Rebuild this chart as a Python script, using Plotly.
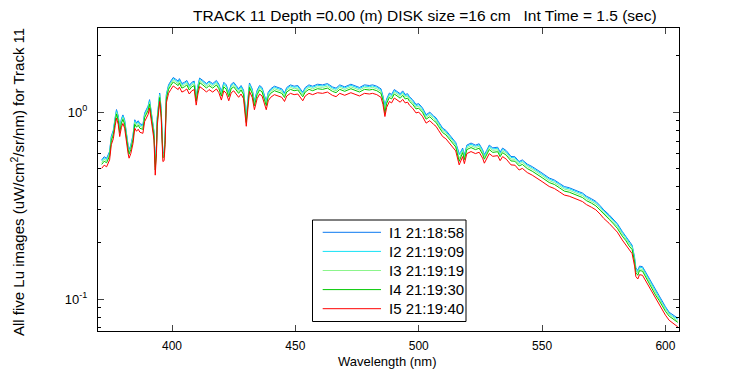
import plotly.graph_objects as go

wavelength = [371.5, 372.5, 373.5, 374.7, 375.4, 376.2, 377.0, 377.5, 378.2, 378.8,
              379.5, 380.1, 380.8, 381.5, 382.2, 382.6, 383.3, 384.2, 384.9, 385.6,
              386.3, 387.0, 388.2, 388.9, 389.6, 390.3, 390.9, 391.6, 392.2, 392.7,
              393.2, 393.7, 394.0, 394.5, 395.0, 395.6, 396.3, 396.8, 397.2, 397.7,
              398.6, 399.5, 400.5, 401.5, 402.5, 403.0, 404.0, 405.0, 406.0, 407.0,
              408.0, 409.0, 409.8, 410.5, 411.2, 412.5, 414.0, 415.0, 416.5, 418.0,
              419.0, 420.0, 421.0, 422.0, 423.0, 424.0, 425.0, 426.0, 427.0, 428.0,
              429.0, 430.1, 430.8, 431.4, 432.5, 433.4, 434.5, 435.5, 436.5, 438.2,
              439.0, 440.0, 441.5, 443.0, 444.5, 445.6, 446.5, 448.0, 449.5, 451.0,
              453.0, 454.0, 455.5, 457.0, 459.0, 461.0, 463.0, 465.0, 466.5, 468.0,
              470.0, 472.5, 474.0, 476.0, 478.0, 480.0, 481.3, 483.0, 484.7, 485.5,
              486.3, 487.0, 488.1, 489.0, 490.1, 491.5, 492.5, 493.5, 494.5, 495.5,
              496.2, 497.5, 498.9, 500.0, 501.5, 503.0, 504.5, 506.0, 507.0, 508.0,
              509.7, 511.0, 512.5, 513.7, 515.0, 516.4, 517.0, 517.8, 518.5, 519.5,
              521.2, 523.0, 524.5, 525.9, 526.6, 527.5, 528.6, 530.0, 532.0, 533.0,
              534.0, 535.5, 537.4, 539.0, 540.7, 542.0, 544.0, 546.0, 548.1, 550.0,
              552.9, 555.0, 557.0, 559.0, 561.0, 563.0, 565.0, 566.4, 568.0, 570.0,
              571.8, 573.5, 575.0, 577.2, 579.0, 580.5, 582.5, 584.0, 585.3, 586.5,
              587.5, 588.0, 588.8, 589.5, 590.7, 592.0, 593.5, 594.7, 596.0, 597.5,
              598.8, 600.0, 601.5, 603.0, 605.0]

i1_values = [.555, .577, .566, .616, .744, .799, .944, 1.032, .955, .821,
             .921, .966, .910, .755, .666, .629, .666, .755, .910, .877,
             .899, .866, .855, .988, 1.032, 1.077, 1.166, 1.010, .888, .788,
             .540, .666, .932, 1.110, 1.265, 1.043, .604, .611, .744, 1.243,
             1.399, 1.465, 1.532, 1.499, 1.465, 1.510, 1.421, 1.443, 1.476, 1.388,
             1.443, 1.465, 1.210, 1.388, 1.521, 1.476, 1.421, 1.465, 1.421, 1.476,
             1.410, 1.288, 1.443, 1.399, 1.277, 1.410, 1.443, 1.388, 1.332, 1.388,
             1.310, .950, 1.166, 1.432, 1.332, 1.143, 1.310, 1.388, 1.354, 1.143,
             1.277, 1.332, 1.376, 1.354, 1.332, 1.265, 1.354, 1.399, 1.376, 1.388,
             1.277, 1.354, 1.399, 1.376, 1.410, 1.399, 1.421, 1.365, 1.343, 1.399,
             1.365, 1.410, 1.388, 1.354, 1.399, 1.388, 1.399, 1.376, 1.332, 1.221,
             1.080, 1.177, 1.265, 1.243, 1.321, 1.288, 1.254, 1.299, 1.243, 1.254,
             1.210, 1.166, 1.099, 1.110, 1.055, .969, .999, .955, .932, .888,
             .821, .799, .755, .727, .688, .600, .611, .642, .588, .666,
             .683, .666, .677, .629, .592, .622, .666, .644, .649, .611,
             .642, .622, .579, .577, .544, .555, .527, .511, .492, .472,
             .444, .433, .416, .400, .394, .383, .375, .369, .355, .344,
             .333, .316, .300, .282, .266, .253, .230, .216, .203, .194,
             .167, .147, .142, .150, .149, .139, .128, .119, .111, .103,
             .097, .091, .085, .082, .079]

i2_values = [.548, .569, .558, .608, .734, .788, .931, 1.018, .942, .810,
             .909, .953, .898, .745, .657, .621, .657, .745, .898, .865,
             .887, .854, .843, .975, 1.018, 1.062, 1.150, .996, .876, .777,
             .530, .657, .920, 1.095, 1.248, 1.029, .596, .602, .734, 1.226,
             1.380, 1.445, 1.511, 1.478, 1.445, 1.489, 1.402, 1.424, 1.456, 1.369,
             1.424, 1.445, 1.194, 1.369, 1.500, 1.456, 1.402, 1.445, 1.402, 1.456,
             1.391, 1.270, 1.424, 1.380, 1.259, 1.391, 1.424, 1.369, 1.314, 1.369,
             1.292, .930, 1.150, 1.413, 1.314, 1.128, 1.292, 1.369, 1.336, 1.128,
             1.259, 1.314, 1.358, 1.336, 1.314, 1.248, 1.336, 1.380, 1.358, 1.369,
             1.259, 1.336, 1.380, 1.358, 1.391, 1.380, 1.402, 1.347, 1.325, 1.380,
             1.347, 1.391, 1.369, 1.336, 1.380, 1.369, 1.380, 1.358, 1.314, 1.205,
             1.060, 1.161, 1.248, 1.226, 1.303, 1.270, 1.237, 1.281, 1.226, 1.237,
             1.194, 1.150, 1.084, 1.095, 1.040, .956, .986, .942, .920, .876,
             .810, .788, .745, .717, .679, .590, .602, .633, .580, .657,
             .673, .657, .668, .621, .584, .613, .657, .635, .641, .602,
             .633, .613, .572, .569, .537, .548, .520, .504, .485, .465,
             .438, .427, .411, .394, .389, .378, .370, .364, .350, .339,
             .329, .312, .296, .278, .263, .250, .227, .214, .200, .192,
             .164, .145, .140, .148, .147, .137, .126, .117, .110, .102,
             .095, .090, .084, .081, .078]

i3_values = [.538, .559, .548, .597, .720, .774, .914, 1.000, .925, .796,
             .892, .935, .882, .731, .645, .610, .645, .731, .882, .849,
             .871, .839, .828, .957, 1.000, 1.043, 1.129, .978, .860, .763,
             .510, .645, .903, 1.075, 1.226, 1.011, .585, .591, .720, 1.204,
             1.355, 1.419, 1.484, 1.451, 1.419, 1.462, 1.376, 1.398, 1.430, 1.344,
             1.398, 1.419, 1.172, 1.344, 1.473, 1.430, 1.376, 1.419, 1.376, 1.430,
             1.365, 1.247, 1.398, 1.355, 1.236, 1.365, 1.398, 1.344, 1.290, 1.344,
             1.269, .910, 1.129, 1.387, 1.290, 1.107, 1.269, 1.344, 1.312, 1.107,
             1.236, 1.290, 1.333, 1.312, 1.290, 1.226, 1.312, 1.355, 1.333, 1.344,
             1.236, 1.312, 1.355, 1.333, 1.365, 1.355, 1.376, 1.322, 1.301, 1.355,
             1.322, 1.365, 1.344, 1.312, 1.355, 1.344, 1.355, 1.333, 1.290, 1.183,
             1.030, 1.140, 1.226, 1.204, 1.279, 1.247, 1.215, 1.258, 1.204, 1.215,
             1.172, 1.129, 1.064, 1.075, 1.021, .938, .968, .925, .903, .860,
             .796, .774, .731, .704, .667, .565, .591, .621, .570, .645,
             .661, .645, .656, .610, .573, .602, .645, .624, .629, .591,
             .621, .602, .561, .559, .527, .538, .511, .495, .476, .457,
             .430, .419, .403, .387, .382, .371, .363, .357, .344, .333,
             .323, .306, .290, .273, .258, .245, .223, .210, .197, .188,
             .161, .142, .138, .145, .144, .134, .124, .115, .108, .100,
             .094, .088, .083, .080, .076]

i4_values = [.525, .546, .536, .583, .704, .756, .893, .977, .903, .777,
             .872, .914, .861, .714, .630, .595, .630, .714, .861, .830,
             .851, .819, .809, .935, .977, 1.019, 1.103, .956, .840, .746,
             .490, .630, .882, 1.050, 1.197, .987, .571, .578, .704, 1.176,
             1.323, 1.386, 1.449, 1.418, 1.386, 1.428, 1.344, 1.365, 1.397, 1.313,
             1.365, 1.386, 1.145, 1.313, 1.439, 1.397, 1.344, 1.386, 1.344, 1.397,
             1.334, 1.218, 1.365, 1.323, 1.208, 1.334, 1.365, 1.313, 1.260, 1.313,
             1.239, .880, 1.103, 1.355, 1.260, 1.082, 1.239, 1.313, 1.281, 1.082,
             1.208, 1.260, 1.302, 1.281, 1.260, 1.197, 1.281, 1.323, 1.302, 1.313,
             1.208, 1.281, 1.323, 1.302, 1.334, 1.323, 1.344, 1.292, 1.271, 1.323,
             1.292, 1.334, 1.313, 1.281, 1.323, 1.313, 1.323, 1.302, 1.260, 1.155,
             .990, 1.113, 1.197, 1.176, 1.250, 1.218, 1.187, 1.229, 1.176, 1.187,
             1.145, 1.103, 1.040, 1.050, .998, .917, .945, .903, .882, .840,
             .777, .756, .714, .688, .651, .545, .578, .607, .557, .630,
             .646, .630, .641, .595, .560, .588, .630, .609, .614, .578,
             .607, .588, .548, .546, .515, .525, .499, .483, .465, .446,
             .420, .410, .394, .378, .373, .362, .355, .349, .336, .326,
             .315, .299, .284, .267, .252, .239, .217, .205, .192, .184,
             .158, .139, .134, .142, .141, .131, .121, .112, .105, .098,
             .091, .086, .081, .078, .075]

i5_values = [.500, .520, .510, .555, .670, .720, .850, .930, .860, .740,
             .830, .870, .820, .680, .600, .567, .600, .680, .820, .790,
             .810, .780, .770, .890, .930, .970, 1.050, .910, .800, .710,
             .460, .600, .840, 1.000, 1.140, .940, .544, .550, .670, 1.120,
             1.260, 1.320, 1.380, 1.350, 1.320, 1.360, 1.280, 1.300, 1.330, 1.250,
             1.300, 1.320, 1.090, 1.250, 1.370, 1.330, 1.280, 1.320, 1.280, 1.330,
             1.270, 1.160, 1.300, 1.260, 1.150, 1.270, 1.300, 1.250, 1.200, 1.250,
             1.180, .840, 1.050, 1.290, 1.200, 1.030, 1.180, 1.250, 1.220, 1.030,
             1.150, 1.200, 1.240, 1.220, 1.200, 1.140, 1.220, 1.260, 1.240, 1.250,
             1.150, 1.220, 1.260, 1.240, 1.270, 1.260, 1.280, 1.230, 1.210, 1.260,
             1.230, 1.270, 1.250, 1.220, 1.260, 1.250, 1.260, 1.240, 1.200, 1.100,
             .947, 1.060, 1.140, 1.120, 1.190, 1.160, 1.130, 1.170, 1.120, 1.130,
             1.090, 1.050, .990, 1.000, .950, .873, .900, .860, .840, .800,
             .740, .720, .680, .655, .620, .522, .550, .578, .530, .600,
             .615, .600, .610, .567, .533, .560, .600, .580, .585, .550,
             .578, .560, .522, .520, .490, .500, .475, .460, .443, .425,
             .400, .390, .375, .360, .355, .345, .338, .332, .320, .310,
             .300, .285, .270, .254, .240, .228, .207, .195, .183, .175,
             .150, .132, .128, .135, .134, .125, .115, .107, .100, .093,
             .087, .082, .077, .074, .071]

series_names = ["I1 21:18:58", "I2 21:19:09", "I3 21:19:19", "I4 21:19:30", "I5 21:19:40"]
series_values = [i1_values, i2_values, i3_values, i4_values, i5_values]
series_colors = ["#0a78f0", "#14e1f5", "#8cf58c", "#00c800", "#ff0000"]

x_ticks = [400, 450, 500, 550, 600]
y_ticks = [0.1, 1]
y_tick_labels = ["10<sup>-1</sup>", "10<sup>0</sup>"]
y_minor = [0.07, 0.08, 0.09, 0.2, 0.3, 0.4, 0.5, 0.6, 0.7, 0.8, 0.9, 2]

font_family = "Liberation Sans, Arial, sans-serif"

# plot-area geometry in pixels (layout only)
W, H = 750, 375
L, R, T, B = 98, 679, 28, 331
PW, PH = R - L, B - T


def px_x(p):
    return (p - L) / PW


def px_y(p):
    return (B - p) / PH


fig = go.Figure()
for name, vals, col in zip(series_names, series_values, series_colors):
    fig.add_trace(go.Scatter(x=wavelength, y=vals, mode="lines", name=name,
                             line=dict(color=col, width=1), showlegend=False,
                             hoverinfo="skip"))

# legend drawn as a boxed list (matches the reference's legend geometry)
shapes = [dict(type="rect", xref="paper", yref="paper",
               x0=px_x(312.5), x1=px_x(466), y0=px_y(321.5), y1=px_y(220),
               line=dict(color="black", width=1), fillcolor="white", layer="above")]
annotations = []
for k, (name, col) in enumerate(zip(series_names, series_colors)):
    yy = 232.3 + k * 19.1
    shapes.append(dict(type="line", xref="paper", yref="paper",
                       x0=px_x(322.7), x1=px_x(381), y0=px_y(yy), y1=px_y(yy),
                       line=dict(color=col, width=1), layer="above"))
    annotations.append(dict(text=name, xref="paper", yref="paper",
                            x=px_x(386.5), y=px_y(yy), xanchor="left", yanchor="middle",
                            showarrow=False, font=dict(size=15, family=font_family)))

annotations.append(dict(text="All five Lu images (uW/cm<sup>2</sup>/sr/nm) for Track 11",
                        xref="paper", yref="paper", x=px_x(18), y=px_y(182),
                        xanchor="center", yanchor="middle", textangle=-90,
                        showarrow=False, font=dict(size=15, family=font_family)))
annotations.append(dict(text="Wavelength (nm)", xref="paper", yref="paper",
                        x=px_x(387.5), y=px_y(361), xanchor="center", yanchor="middle",
                        showarrow=False, font=dict(size=13, family=font_family)))
annotations.append(dict(text="TRACK 11 Depth =0.00 (m) DISK size =16 cm &nbsp; Int Time = 1.5 (sec)",
                        xref="paper", yref="paper", x=px_x(425), y=px_y(15),
                        xanchor="center", yanchor="middle",
                        showarrow=False, font=dict(size=15.5, family=font_family)))

fig.update_layout(
    width=W, height=H,
    margin=dict(l=L, r=W - R, t=T, b=H - B),
    paper_bgcolor="white", plot_bgcolor="white",
    font=dict(family=font_family, size=12, color="black"),
    showlegend=False,
    hovermode=False,
    shapes=shapes,
    annotations=annotations,
)

fig.update_xaxes(
    range=[370, 605.5], tickvals=x_ticks, ticks="inside", ticklen=6,
    showline=True, linecolor="black", linewidth=1, mirror="ticks",
    showgrid=False, zeroline=False, ticklabelstandoff=4,
    tickfont=dict(size=12),
)
fig.update_yaxes(
    type="log", range=[-1.171, 0.450], tickvals=y_ticks, ticktext=y_tick_labels,
    ticks="inside", ticklen=6,
    minor=dict(tickvals=y_minor, ticks="inside", ticklen=3, tickcolor="black"),
    showline=True, linecolor="black", linewidth=1, mirror="ticks",
    showgrid=False, zeroline=False, ticklabelstandoff=7,
    tickfont=dict(size=13),
)

fig.write_html(
    "out.html",
    config={"displayModeBar": False, "staticPlot": True},
    post_script="document.body.style.margin='0px';"
                "document.documentElement.style.overflow='hidden';",
)
